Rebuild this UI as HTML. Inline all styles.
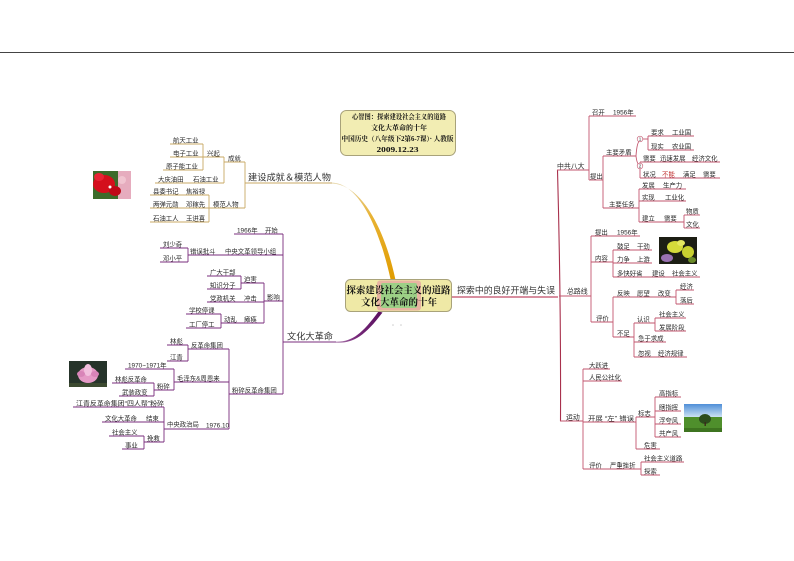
<!DOCTYPE html>
<html><head><meta charset="utf-8">
<style>
html,body{margin:0;padding:0;background:#fff;}
svg{display:block;}
text{font-family:"Liberation Sans","Noto Sans CJK SC",sans-serif;fill:#2a2a2a;font-size:6.4px;}
text.b{font-size:9px;fill:#333;}
text.r1{font-size:6.9px;}
text.s{font-family:"Liberation Serif","Noto Serif CJK SC",serif;font-weight:bold;fill:#111;}
text.t{font-size:6.8px;}
text.c{font-size:9.5px;}
text.n{font-size:4.5px;}
.tan path,.tan line{stroke:#c9a964;stroke-width:0.9;fill:none;}
.pur path,.pur line{stroke:#7a2c7c;stroke-width:0.9;fill:none;}
.red path,.red line{stroke:#c2566e;stroke-width:0.9;fill:none;}
</style></head><body>
<svg width="794" height="561" viewBox="0 0 794 561" xmlns="http://www.w3.org/2000/svg">
<defs>
<linearGradient id="gold" x1="0" y1="183" x2="0" y2="280" gradientUnits="userSpaceOnUse">
<stop offset="0" stop-color="#e6d6a8"/><stop offset="0.35" stop-color="#e8b232"/><stop offset="1" stop-color="#e09c00"/>
</linearGradient>
<linearGradient id="purp" x1="336" y1="0" x2="382" y2="0" gradientUnits="userSpaceOnUse">
<stop offset="0" stop-color="#b48ab6"/><stop offset="0.4" stop-color="#7a2c7c"/><stop offset="1" stop-color="#5a1060"/>
</linearGradient>
<linearGradient id="sky" x1="0" y1="404" x2="0" y2="418" gradientUnits="userSpaceOnUse">
<stop offset="0" stop-color="#4f8fd8"/><stop offset="1" stop-color="#d6e8f6"/>
</linearGradient>
</defs>
<rect width="794" height="561" fill="#fff"/>
<line x1="0" y1="52.5" x2="794" y2="52.5" stroke="#444" stroke-width="1"/>

<!-- Title box -->
<rect x="340.5" y="110.5" width="115" height="45" rx="6" fill="#f2edb3" stroke="#a8a27a" stroke-width="1"/>
<text class="s t" x="399" y="118.8" text-anchor="middle" textLength="94" lengthAdjust="spacingAndGlyphs">心智图：探索建设社会主义的道路</text>
<text class="s t" x="399" y="129.8" text-anchor="middle" textLength="56" lengthAdjust="spacingAndGlyphs">文化大革命的十年</text>
<text class="s t" x="397.5" y="140.8" text-anchor="middle" textLength="112" lengthAdjust="spacingAndGlyphs">中国历史（八年级下2第6-7课）· 人教版</text>
<text class="s t" x="397.5" y="151.8" text-anchor="middle" textLength="42" lengthAdjust="spacingAndGlyphs">2009.12.23</text>

<!-- Center curves -->
<path d="M332,182.6 C360,183.5 380,231 390.6,279.5 L395.4,279.5 C385,230 362,184.6 332,183.5 Z" fill="url(#gold)"/>
<path d="M336,341.6 C352,342 362,334 378.5,311.5 L382.5,312.5 C365,336 353,343.6 336,342.7 Z" fill="url(#purp)"/>
<line x1="452" y1="297" x2="558" y2="297" stroke="#c04a66" stroke-width="1.2"/>

<!-- Center box -->
<rect x="345.5" y="279.5" width="106" height="32" rx="5" fill="#efe9a6" stroke="#a9a37a" stroke-width="1"/>
<rect x="377" y="280.5" width="44" height="30" rx="3" fill="#e8b4a2"/>
<rect x="381" y="283" width="36" height="25" rx="2" fill="#9ccf86"/>
<text class="s c" x="398.5" y="293.6" text-anchor="middle" textLength="104" lengthAdjust="spacingAndGlyphs">探索建设社会主义的道路</text>
<text class="s c" x="399" y="305.6" text-anchor="middle" textLength="76" lengthAdjust="spacingAndGlyphs">文化大革命的十年</text>
<circle cx="393" cy="325" r="0.8" fill="#ccc"/><circle cx="401" cy="325" r="0.8" fill="#ccc"/>

<!-- Main branch labels -->
<text class="b" x="248" y="180.5" textLength="83" lengthAdjust="spacingAndGlyphs">建设成就＆模范人物</text>
<text class="b" x="287" y="339.5" textLength="46" lengthAdjust="spacingAndGlyphs">文化大革命</text>
<text class="b" x="457" y="293.3" textLength="98" lengthAdjust="spacingAndGlyphs">探索中的良好开端与失误</text>

<!-- ============ LEFT TOP (tan) ============ -->
<g class="tan">
<path d="M245,183 H332"/>
<path d="M245,162 V208"/>
<path d="M224,162 H245"/>
<path d="M209,208 H245"/>
<path d="M224,157 V183"/>
<path d="M203,157 H224"/>
<path d="M155,183 H224"/>
<path d="M203,144 V170"/>
<path d="M170,144 H203"/>
<path d="M170,157 H203"/>
<path d="M163,170 H203"/>
<path d="M209,195 V222"/>
<path d="M150,195 H209"/>
<path d="M150,208 H209"/>
<path d="M150,222 H209"/>
</g>
<text x="228" y="160.3">成就</text>
<text x="207" y="155.3">兴起</text>
<text x="173" y="142.3">航天工业</text>
<text x="173" y="155.3">电子工业</text>
<text x="166" y="168.3">原子能工业</text>
<text x="158" y="181.3">大庆油田</text>
<text x="193" y="181.3">石油工业</text>
<text x="213" y="206.3">模范人物</text>
<text x="153" y="193.3">县委书记</text>
<text x="186" y="193.3">焦裕禄</text>
<text x="153" y="206.3">两弹元勋</text>
<text x="186" y="206.3">邓稼先</text>
<text x="153" y="220.3">石油工人</text>
<text x="186" y="220.3">王进喜</text>

<!-- red flower image -->
<rect x="93" y="171" width="38" height="28" fill="#3d6b2a"/>
<rect x="118" y="171" width="13" height="28" fill="#e6acbe"/>
<ellipse cx="104" cy="184" rx="11" ry="9" fill="#d4101c"/>
<ellipse cx="115" cy="191" rx="6" ry="5" fill="#bf0818"/>
<ellipse cx="99" cy="177" rx="5" ry="4" fill="#e82434"/>
<ellipse cx="122" cy="180" rx="4" ry="4" fill="#f0c4d0"/>
<circle cx="110" cy="187" r="1.5" fill="#fff"/>

<!-- ============ LEFT MIDDLE (purple) ============ -->
<g class="pur">
<path d="M283,234 V394"/>
<path d="M283,342 H336"/>
<path d="M234,234 H283"/>
<path d="M188,255 H283"/>
<path d="M188,248 V262"/>
<path d="M160,248 H188"/>
<path d="M160,262 H188"/>
<path d="M264,301 H283"/>
<path d="M264,283 V323"/>
<path d="M241,283 H264"/>
<path d="M241,276 V289"/>
<path d="M207,276 H241"/>
<path d="M207,289 H241"/>
<path d="M207,302 H264"/>
<path d="M221,323 H264"/>
<path d="M221,314 V328"/>
<path d="M186,314 H221"/>
<path d="M186,328 H221"/>
<path d="M229,394 H283"/>
<path d="M229,349 V429"/>
<path d="M188,349 H229"/>
<path d="M188,345 V361"/>
<path d="M167,345 H188"/>
<path d="M167,361 H188"/>
<path d="M174,382 H229"/>
<path d="M174,369 V390"/>
<path d="M125,369 H174"/>
<path d="M154,390 H174"/>
<path d="M154,383 V396"/>
<path d="M112,383 H154"/>
<path d="M119,396 H154"/>
<path d="M164,429 H229"/>
<path d="M164,407 V442"/>
<path d="M73,407 H164"/>
<path d="M102,422 H164"/>
<path d="M144,442 H164"/>
<path d="M144,436 V449"/>
<path d="M109,436 H144"/>
<path d="M122,449 H144"/>
</g>
<text x="237" y="232.3">1966年</text>
<text x="265" y="232.3">开始</text>
<text x="163" y="246.3">刘少奇</text>
<text x="163" y="260.3">邓小平</text>
<text x="190" y="253.3">错误批斗</text>
<text x="225" y="253.3">中央文革领导小组</text>
<text x="210" y="274.3">广大干部</text>
<text x="210" y="287.3">知识分子</text>
<text x="244" y="281.3">迫害</text>
<text x="210" y="300.3">党政机关</text>
<text x="244" y="300.3">冲击</text>
<text x="189" y="312.3">学校停课</text>
<text x="189" y="326.3">工厂停工</text>
<text x="224" y="321.3">动乱</text>
<text x="244" y="321.3">瘫痪</text>
<text x="267" y="299.3">影响</text>
<text x="170" y="343.3">林彪</text>
<text x="170" y="359.3">江青</text>
<text x="191" y="347.3">反革命集团</text>
<text x="128" y="367.3">1970~1971年</text>
<text x="115" y="381.3">林彪反革命</text>
<text x="122" y="394.3">武装政变</text>
<text x="157" y="388.3">粉碎</text>
<text x="177" y="380.3">毛泽东&amp;周恩来</text>
<text x="232" y="392.3">粉碎反革命集团</text>
<text x="76" y="405.3" textLength="88" lengthAdjust="spacingAndGlyphs">江青反革命集团“四人帮”粉碎</text>
<text x="105" y="420.3">文化大革命</text>
<text x="146" y="420.3">结束</text>
<text x="112" y="434.3">社会主义</text>
<text x="125" y="447.3">事业</text>
<text x="147" y="440.3">挽救</text>
<text x="167" y="426.3">中央政治局</text>
<text x="206" y="427.3">1976.10</text>

<!-- lotus image -->
<rect x="69" y="361" width="38" height="26" fill="#26342a"/>
<ellipse cx="88" cy="375" rx="10" ry="8" fill="#e59ac6"/>
<ellipse cx="88" cy="370" rx="4" ry="6" fill="#f2c0de"/>
<ellipse cx="81" cy="374" rx="4" ry="3" fill="#d884b8"/>
<ellipse cx="95" cy="374" rx="4" ry="3" fill="#d884b8"/>
<rect x="69" y="383" width="38" height="4" fill="#3c4a30"/>

<!-- ============ RIGHT (red) ============ -->
<path d="M557.5,170 Q561,300 560.5,421" stroke="#a8304c" stroke-width="1.1" fill="none"/>
<g class="red">
<path d="M557,170 H589"/>
<path d="M589,116 V180"/>
<path d="M589,116 H636"/>
<path d="M589,180 H603"/>
<path d="M603,156 V208"/>
<path d="M603,156 H636"/>
<path d="M636,156 Q637,141 640,141"/>
<path d="M636,156 Q637,165 640,165"/>
<path d="M648,136 V150"/>
<path d="M643,139 H648"/>
<path d="M648,136 H694"/>
<path d="M648,150 H694"/>
<path d="M640,162 V178"/>
<path d="M640,162 H720"/>
<path d="M640,178 H720"/>
<path d="M603,208 H639"/>
<path d="M639,189 V222"/>
<path d="M639,189 H686"/>
<path d="M639,201 H686"/>
<path d="M639,222 H684"/>
<path d="M684,215 V228"/>
<path d="M684,215 H700"/>
<path d="M684,228 H700"/>
<path d="M559,296 H591"/>
<path d="M591,236 V322"/>
<path d="M591,236 H640"/>
<path d="M591,262 H613"/>
<path d="M613,250 V277"/>
<path d="M613,250 H652"/>
<path d="M613,263 H652"/>
<path d="M613,277 H700"/>
<path d="M591,322 H613"/>
<path d="M613,297 V337"/>
<path d="M613,297 H676"/>
<path d="M676,290 V304"/>
<path d="M676,290 H694"/>
<path d="M676,304 H694"/>
<path d="M613,337 H634"/>
<path d="M634,323 V357"/>
<path d="M634,323 H655"/>
<path d="M655,318 V331"/>
<path d="M655,318 H686"/>
<path d="M655,331 H686"/>
<path d="M634,342 H666"/>
<path d="M634,357 H687"/>
<path d="M560,421 H583"/>
<path d="M583,369 V469"/>
<path d="M583,369 H610"/>
<path d="M583,381 H622"/>
<path d="M583,422 H636"/>
<path d="M636,417 V449"/>
<path d="M636,417 H655"/>
<path d="M655,397 V437"/>
<path d="M655,397 H681"/>
<path d="M655,411 H681"/>
<path d="M655,424 H681"/>
<path d="M655,437 H681"/>
<path d="M636,449 H660"/>
<path d="M583,469 H641"/>
<path d="M641,462 V475"/>
<path d="M641,462 H684"/>
<path d="M641,475 H660"/>
</g>
<circle cx="640" cy="139" r="2.8" fill="#fff" stroke="#c2566e" stroke-width="0.6"/>
<text class="n" x="638.8" y="140.7">1</text>
<circle cx="640" cy="166" r="2.8" fill="#fff" stroke="#c2566e" stroke-width="0.6"/>
<text class="n" x="638.8" y="167.7">2</text>

<text class="r1" x="557" y="168.3">中共八大</text>
<text x="592" y="114.3">召开</text>
<text x="613" y="114.3">1956年</text>
<text x="590" y="178.3">提出</text>
<text x="606" y="154.3">主要矛盾</text>
<text x="651" y="134.3">要求</text>
<text x="672" y="134.3">工业国</text>
<text x="651" y="148.3">现实</text>
<text x="672" y="148.3">农业国</text>
<text x="643" y="160.3">需要</text>
<text x="660" y="160.3">迅速发展</text>
<text x="692" y="160.3">经济文化</text>
<text x="643" y="176.3">状况</text>
<text x="662" y="176.3" style="fill:#c03030">不能</text>
<text x="683" y="176.3">满足</text>
<text x="703" y="176.3">需要</text>
<text x="609" y="206.3">主要任务</text>
<text x="642" y="187.3">发展</text>
<text x="663" y="187.3">生产力</text>
<text x="642" y="199.3">实现</text>
<text x="665" y="199.3">工业化</text>
<text x="642" y="220.3">建立</text>
<text x="664" y="220.3">需要</text>
<text x="686" y="213.3">物质</text>
<text x="686" y="226.3">文化</text>

<text class="r1" x="567" y="293.3">总路线</text>
<text x="595" y="234.3">提出</text>
<text x="617" y="234.3">1956年</text>
<text x="595" y="260.3">内容</text>
<text x="617" y="248.3">鼓足</text>
<text x="637" y="248.3">干劲</text>
<text x="617" y="261.3">力争</text>
<text x="637" y="261.3">上游</text>
<text x="617" y="275.3">多快好省</text>
<text x="652" y="275.3">建设</text>
<text x="672" y="275.3">社会主义</text>
<text x="596" y="320.3">评价</text>
<text x="617" y="295.3">反映</text>
<text x="637" y="295.3">愿望</text>
<text x="658" y="295.3">改变</text>
<text x="680" y="288.3">经济</text>
<text x="680" y="302.3">落后</text>
<text x="617" y="335.3">不足</text>
<text x="637" y="321.3">认识</text>
<text x="659" y="316.3">社会主义</text>
<text x="659" y="329.3">发展阶段</text>
<text x="638" y="340.3">急于求成</text>
<text x="638" y="355.3">忽视</text>
<text x="658" y="355.3">经济规律</text>

<text class="r1" x="566" y="419.3">运动</text>
<text x="589" y="367.3">大跃进</text>
<text x="589" y="379.3">人民公社化</text>
<text x="588" y="420.3" textLength="46" lengthAdjust="spacingAndGlyphs">开展 “左” 错误</text>
<text x="638" y="415.3">标志</text>
<text x="659" y="395.3">高指标</text>
<text x="659" y="409.3">瞎指挥</text>
<text x="659" y="422.3">浮夸风</text>
<text x="659" y="435.3">共产风</text>
<text x="644" y="447.3">危害</text>
<text x="589" y="467.3">评价</text>
<text x="610" y="467.3">严重挫折</text>
<text x="644" y="460.3">社会主义道路</text>
<text x="644" y="473.3">探索</text>

<!-- yellow flower image -->
<rect x="659" y="237" width="38" height="27" fill="#1c1e14"/>
<ellipse cx="675" cy="247" rx="8" ry="6" fill="#d4da3a"/>
<ellipse cx="688" cy="252" rx="6" ry="6" fill="#c8d030"/>
<ellipse cx="681" cy="243" rx="4" ry="3" fill="#e4e860"/>
<ellipse cx="667" cy="258" rx="6" ry="4" fill="#9a72b2"/>
<ellipse cx="692" cy="260" rx="4" ry="3" fill="#6a8a28"/>

<!-- landscape image -->
<rect x="684" y="404" width="38" height="14" fill="url(#sky)"/>
<rect x="684" y="417" width="38" height="15" fill="#4f8f2c"/>
<rect x="684" y="428" width="38" height="4" fill="#3e7420"/>
<ellipse cx="705" cy="419" rx="6" ry="5" fill="#2c4c1c"/>
<rect x="704.5" y="422" width="1.4" height="4" fill="#3a2a1a"/>
</svg>
</body></html>
